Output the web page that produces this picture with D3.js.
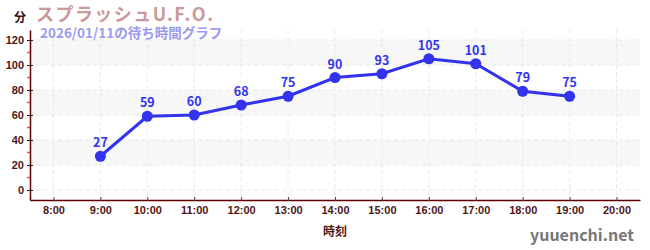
<!DOCTYPE html>
<html lang="ja">
<head>
<meta charset="utf-8"/>
<title>スプラッシュU.F.O. 待ち時間</title>
<script src="https://d3js.org/d3.v7.min.js"></script>
<style>
  body { margin: 0; background: #fff; }
  svg { display: block; font-family: "Noto Sans CJK JP", "Noto Sans", sans-serif; }
</style>
</head>
<body>
<svg id="chart" width="650" height="250"></svg>
<script>
// datos del gráfico
const horas = [9, 10, 11, 12, 13, 14, 15, 16, 17, 18, 19];
const espera = [27, 59, 60, 68, 75, 90, 93, 105, 101, 79, 75];
const horasEje = [8, 9, 10, 11, 12, 13, 14, 15, 16, 17, 18, 19, 20];
const valoresEje = [0, 20, 40, 60, 80, 100, 120];
const bandas = [[20, 40], [60, 80], [100, 120]];

const titulo = "スプラッシュU.F.O.";
const subtitulo = "2026/01/11の待ち時間グラフ";

const svg = d3.select("#chart");

const izq = 30, der = 640, arriba = 30, abajo = 200;

const x = d3.scaleLinear().domain([7.5, 20.5]).range([izq, der]);
const y = d3.scaleLinear().domain([-8, 128]).range([abajo, arriba]);

// bandas grises
svg.selectAll("rect.banda")
    .data(bandas).enter()
    .append("rect")
    .attr("x", izq)
    .attr("width", der - izq)
    .attr("y", d => y(d[1]))
    .attr("height", d => y(d[0]) - y(d[1]))
    .style("fill", "#f7f7f7");

// grilla horizontal
svg.selectAll("line.gy")
    .data(valoresEje).enter()
    .append("line")
    .attr("x1", izq).attr("x2", der)
    .attr("y1", d => y(d)).attr("y2", d => y(d))
    .style("stroke", "#e8e8e8")
    .style("stroke-dasharray", "4,3");

// grilla vertical
svg.selectAll("line.gx")
    .data(horasEje).enter()
    .append("line")
    .attr("x1", d => x(d)).attr("x2", d => x(d))
    .attr("y1", arriba).attr("y2", abajo)
    .style("stroke", "#e8e8e8")
    .style("stroke-dasharray", "4,3");

// ejes
const ejeX = d3.axisBottom(x)
    .tickValues(horasEje)
    .tickFormat(d => d + ":00")
    .tickSize(0)
    .tickPadding(6);

const gx = svg.append("g")
    .attr("transform", `translate(0,${abajo})`)
    .call(ejeX);
gx.select(".domain").style("stroke", "#600000").style("stroke-width", 1.5);
gx.selectAll("text")
    .style("font-size", "11px")
    .style("font-weight", "bold")
    .style("fill", "#501515");
gx.selectAll(".tick").append("line")
    .attr("y1", -3).attr("y2", 1)
    .style("stroke", "#444");

// marcas menores en rojo
svg.selectAll("line.menor")
    .data(d3.range(10, 121, 20)).enter()
    .append("line")
    .attr("x1", izq - 3).attr("x2", izq)
    .attr("y1", d => y(d)).attr("y2", d => y(d))
    .style("stroke", "#ee5555")
    .style("stroke-width", 1.5);

const ejeY = d3.axisLeft(y)
    .tickValues(valoresEje)
    .tickSize(0)
    .tickPadding(6);

const gy = svg.append("g")
    .attr("transform", `translate(${izq},0)`)
    .call(ejeY);
gy.select(".domain").style("stroke", "#600000").style("stroke-width", 1.5);
gy.selectAll("text")
    .style("font-size", "11px")
    .style("font-weight", "bold")
    .style("fill", "#501515");
gy.selectAll(".tick").append("line")
    .attr("x1", -3).attr("x2", 3)
    .style("stroke", "#222");

// la línea
const linea = d3.line()
    .x((d, i) => x(horas[i]))
    .y(d => y(d));

svg.append("path")
    .datum(espera)
    .attr("d", linea)
    .style("fill", "none")
    .style("stroke", "#3333ee")
    .style("stroke-width", 3);

svg.selectAll("circle.punto")
    .data(espera).enter()
    .append("circle")
    .attr("cx", (d, i) => x(horas[i]))
    .attr("cy", d => y(d))
    .attr("r", 5.5)
    .style("fill", "#3333ee");

svg.selectAll("text.valor")
    .data(espera).enter()
    .append("text")
    .attr("x", (d, i) => x(horas[i]))
    .attr("y", d => y(d) - 9)
    .attr("text-anchor", "middle")
    .style("font-size", "12.5px")
    .style("font-weight", "bold")
    .style("fill", "#3333ee")
    .text(d => d);

// textos
svg.append("text")
    .attr("x", 14).attr("y", 22)
    .style("font-size", "12px")
    .style("font-weight", "bold")
    .style("fill", "#331111")
    .text("分");

svg.append("text")
    .attr("x", 36).attr("y", 21)
    .attr("textLength", 177)
    .attr("lengthAdjust", "spacing")
    .style("font-size", "18px")
    .style("font-weight", "bold")
    .style("fill", "#c99a9a")
    .text(titulo);

svg.append("text")
    .attr("x", 40).attr("y", 38)
    .style("font-size", "13.5px")
    .style("font-weight", "bold")
    .style("fill", "#9a9af0")
    .text(subtitulo);

svg.append("text")
    .attr("x", 335).attr("y", 236)
    .attr("text-anchor", "middle")
    .style("font-size", "12px")
    .style("font-weight", "bold")
    .style("fill", "#501515")
    .text("時刻");

svg.append("text")
    .attr("x", 634).attr("y", 241)
    .attr("text-anchor", "end")
    .style("font-size", "16px")
    .style("font-weight", "bold")
    .style("fill", "#777")
    .text("yuuenchi.net");
</script>
</body>
</html>
